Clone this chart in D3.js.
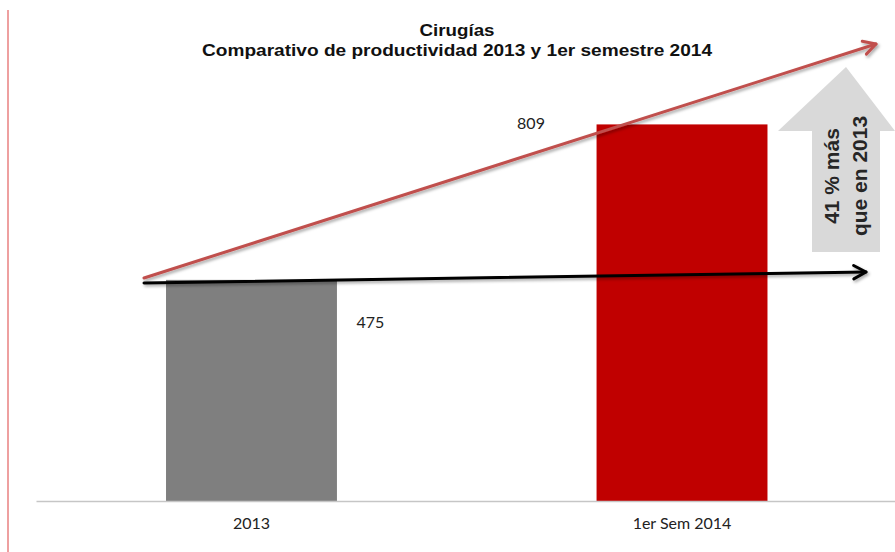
<!DOCTYPE html>
<html><head><meta charset="utf-8">
<script src="https://cdn.jsdelivr.net/npm/d3@7"></script>
<style>body{margin:0;background:#fff}svg{display:block}</style>
</head><body>
<svg id="c" width="895" height="552"></svg>
<script>
const categories = ["2013", "1er Sem 2014"];
const values = [475, 809];
const barColors = ["#7f7f7f", "#c00000"];
const titleLines = ["Cirugías", "Comparativo de productividad 2013 y 1er semestre 2014"];
const calloutLines = ["41 % más", "que en 2013"];

const svg = d3.select("#c");
const W = 895, H = 552;
const x = d3.scaleBand().domain(categories).range([36, 897.5]).paddingInner(0.603).paddingOuter(0.302);
const y = d3.scaleLinear().domain([0, 1000]).range([501, 35.5]);

const defs = svg.append("defs");
const f = defs.append("filter").attr("id","sh").attr("x","-10%").attr("y","-50%").attr("width","120%").attr("height","200%");
f.append("feDropShadow").attr("dx",1.5).attr("dy",2).attr("stdDeviation",1.5).attr("flood-color","#000").attr("flood-opacity",0.35);

// left border line
svg.append("line").attr("x1",8).attr("x2",8).attr("y1",10).attr("y2",H)
  .attr("stroke","#eea0a0").attr("stroke-width",2);

// title
const titleWidths = [75, 510];
svg.selectAll("text.title").data(titleLines).join("text").attr("class","title")
  .attr("x",457).attr("y",(d,i)=> 36 + i*20).attr("text-anchor","middle")
  .attr("font-family","Liberation Sans, Arial, sans-serif").attr("font-weight","bold").attr("font-size",16.5)
  .attr("fill","#111")
  .attr("textLength",(d,i)=>titleWidths[i]).attr("lengthAdjust","spacingAndGlyphs")
  .text(d=>d);

// bars
svg.selectAll("rect.bar").data(values).join("rect").attr("class","bar")
  .attr("x",(d,i)=>x(categories[i])).attr("width",x.bandwidth())
  .attr("y",d=>y(d)).attr("height",d=>y(0)-y(d))
  .attr("fill",(d,i)=>barColors[i]);

// baseline axis
const ax = svg.append("g").attr("transform",`translate(0,${y(0)})`)
  .call(d3.axisBottom(x).tickSize(0).tickPadding(17));
ax.select(".domain").attr("stroke","#c6c6c6").attr("stroke-width",1.5);
ax.selectAll("text").attr("font-family","Lato, sans-serif").attr("font-size",16).attr("fill","#222");

// value labels
const labelPos = [{dx: 119, dy: 43}, {dx: -151, dy: 0}];
svg.selectAll("text.val").data(values).join("text").attr("class","val")
  .attr("x",(d,i)=>x(categories[i])+x.bandwidth()/2+labelPos[i].dx)
  .attr("y",(d,i)=>y(d)+labelPos[i].dy+5)
  .attr("text-anchor","middle")
  .attr("font-family","Lato, sans-serif").attr("font-size",16).attr("fill","#222")
  .text(d=>d);

// gray callout up-arrow
svg.append("path")
  .attr("d","M846,67 L895,131 L880,131 L880,252 L812,252 L812,131 L778,131 Z")
  .attr("fill","#d9d9d9");
svg.append("g").attr("transform","translate(846,176) rotate(-90)")
  .selectAll("text").data(calloutLines).join("text")
  .attr("x",0).attr("y",(d,i)=> i===0? -7 : 21)
  .attr("text-anchor","middle")
  .attr("font-family","Liberation Sans, Arial, sans-serif").attr("font-weight","bold").attr("font-size",21)
  .attr("fill","#262626").text(d=>d);

// arrows (trend lines)
function arrow(x1,y1,x2,y2,color,w){
  const g = svg.append("g").attr("filter","url(#sh)");
  g.append("line").attr("x1",x1).attr("y1",y1).attr("x2",x2).attr("y2",y2)
    .attr("stroke",color).attr("stroke-width",w).attr("stroke-linecap","round");
  const a = Math.atan2(y2-y1,x2-x1), L = 14, s = 0.5;
  const p1 = [x2 - L*Math.cos(a-s), y2 - L*Math.sin(a-s)];
  const p2 = [x2 - L*Math.cos(a+s), y2 - L*Math.sin(a+s)];
  g.append("path").attr("d",`M${p1} L${x2},${y2} L${p2}`)
    .attr("fill","none").attr("stroke",color).attr("stroke-width",w)
    .attr("stroke-linecap","round").attr("stroke-linejoin","round");
}
arrow(144,278,876,44,"#c0504d",3);
arrow(144,283,866,272,"#000",3);
</script>
</body></html>
